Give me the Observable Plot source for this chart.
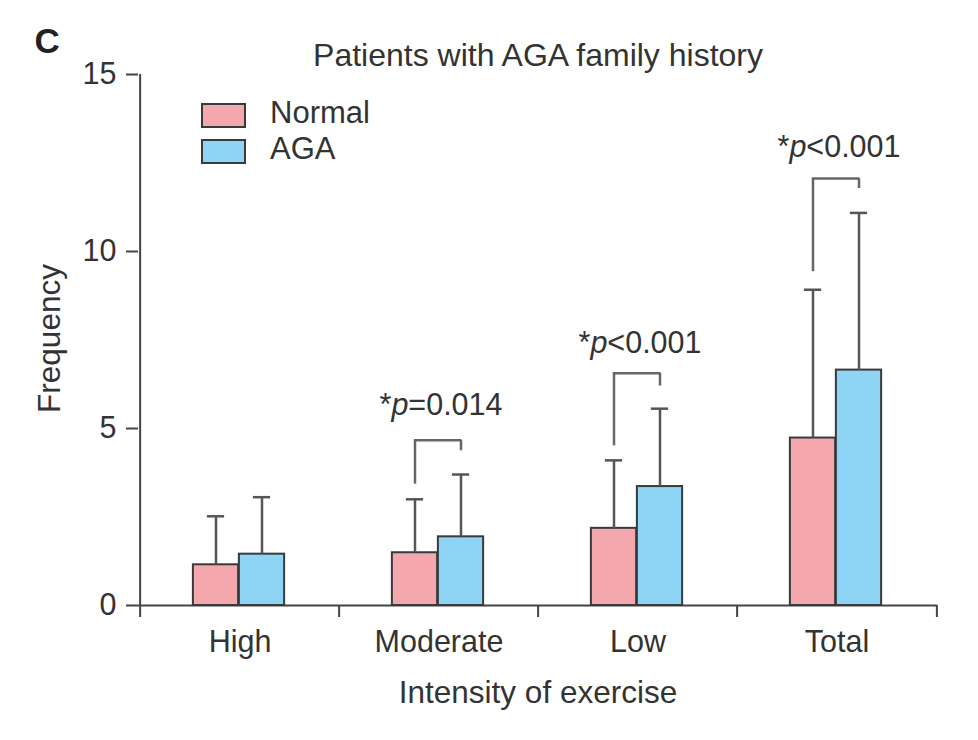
<!DOCTYPE html>
<html>
<head>
<meta charset="utf-8">
<script src="https://cdn.jsdelivr.net/npm/d3@7"></script>
<script src="https://cdn.jsdelivr.net/npm/@observablehq/plot@0.6"></script>
<style>
  body { margin: 0; background: white; }
  #wrap { position: relative; width: 978px; height: 740px; font-family: "Liberation Sans", Arial, sans-serif; color: #333; }
  .lg { position: absolute; left: 201px; width: 41px; height: 21px; border: 2px solid #3a3a3a; }
  .lt { position: absolute; left: 270px; font-size: 31px; line-height: 31px; }
</style>
</head>
<body>
<div id="wrap"></div>
<script>
const categories = ["High", "Moderate", "Low", "Total"];
const seriesNames = ["Normal", "AGA"];
const seriesColors = ["#F4A7AD", "#8ED4F5"];
const normalMean = [1.15, 1.49, 2.18, 4.73];
const normalSD = [1.37, 1.51, 1.92, 4.19];
const agaMean = [1.45, 1.94, 3.36, 6.65];
const agaSD = [1.61, 1.76, 2.20, 4.44];
const yTicks = [0, 5, 10, 15];

const compCategories = ["Moderate", "Low", "Total"];
const compLabels = ["*p=0.014", "*p<0.001", "*p<0.001"];
const bracketTop = [4.67, 6.56, 12.06];
const bracketLeftEnd = [3.43, 4.51, 9.43];
const bracketRightEnd = [4.37, 6.2, 11.78];
const labelY = [5.67, 7.41, 12.95];

const W = 978, H = 740, mL = 138, mR = 41, mT = 74, mB = 135;
const bw = (W - mL - mR) / categories.length;
const barW = 46;
const font = '"Liberation Sans", Arial, sans-serif';

const normalRows = categories.map((c, i) => ({cat: c, mean: normalMean[i], up: normalMean[i] + normalSD[i]}));
const agaRows = categories.map((c, i) => ({cat: c, mean: agaMean[i], up: agaMean[i] + agaSD[i]}));
const comps = compCategories.map((c, i) => ({cat: c, top: bracketTop[i], left: bracketLeftEnd[i], right: bracketRightEnd[i], ly: labelY[i], label: compLabels[i]}));

const axisColor = "#444";
const errColor = "#555";
const brColor = "#666";
const offN = -24, offA = 22;

function group(rows, off, fill) {
  return [
    Plot.barY(rows, {x: "cat", y: "mean", dx: off, insetLeft: (bw - barW) / 2, insetRight: (bw - barW) / 2, fill, stroke: "#3a3a3a", strokeWidth: 2}),
    Plot.ruleX(rows, {x: "cat", y1: "mean", y2: "up", dx: off, stroke: errColor, strokeWidth: 2.5}),
    Plot.tickY(rows, {x: "cat", y: "up", dx: off, insetLeft: bw / 2 - 9, insetRight: bw / 2 - 9, stroke: errColor, strokeWidth: 2.5})
  ];
}

const chart = Plot.plot({
  width: W, height: H,
  marginLeft: mL, marginRight: mR, marginTop: mT, marginBottom: mB,
  style: {fontFamily: font, fontSize: "30px", color: "#333", background: "white", overflow: "visible"},
  x: {domain: categories, padding: 0, axis: null},
  y: {domain: [0, 15], axis: null},
  marks: [
    Plot.axisY({ticks: yTicks, tickSize: 12, tickPadding: 10, fontSize: 30.5, label: null, stroke: axisColor, strokeWidth: 2}),
    Plot.axisX({tickSize: 0, tickPadding: 25, fontSize: 30.5, label: null}),
    Plot.ruleY([0], {stroke: axisColor, strokeWidth: 2}),
    Plot.ruleX([categories[0]], {x: d => d, dx: -bw / 2, y1: () => 0, y2: () => 15, stroke: axisColor, strokeWidth: 2}),
    Plot.ruleX(categories, {x: d => d, dx: -bw / 2, y1: () => 0, y2: () => 0, insetBottom: -12, stroke: axisColor, strokeWidth: 2}),
    Plot.ruleX([categories[categories.length - 1]], {x: d => d, dx: bw / 2, y1: () => 0, y2: () => 0, insetBottom: -12, stroke: axisColor, strokeWidth: 2}),
    ...group(normalRows, offN, seriesColors[0]),
    ...group(agaRows, offA, seriesColors[1]),
    Plot.ruleX(comps, {x: "cat", y1: "left", y2: "top", dx: offN, stroke: brColor, strokeWidth: 2.5}),
    Plot.ruleX(comps, {x: "cat", y1: "right", y2: "top", dx: offA, stroke: brColor, strokeWidth: 2.5}),
    Plot.tickY(comps, {x: "cat", y: "top", insetLeft: bw / 2 + offN - 1, insetRight: bw / 2 - offA - 1, stroke: brColor, strokeWidth: 2.5}),
    Plot.text(comps, {x: "cat", y: "ly", text: "label", dx: 2, fontSize: 30.5, lineAnchor: "middle", fill: "#333"}),
    Plot.text(["Patients with AGA family history"], {text: d => d, frameAnchor: "top", textAnchor: "middle", dy: -18.6, fontSize: 32, lineAnchor: "middle", fill: "#333"}),
    Plot.text(["C"], {text: d => d, frameAnchor: "top-left", textAnchor: "start", lineAnchor: "middle", dx: -104, dy: -32.5, fontSize: 35, fontWeight: "bold", fill: "#222"}),
    Plot.text(["Frequency"], {text: d => d, frameAnchor: "left", textAnchor: "middle", lineAnchor: "middle", rotate: -90, dx: -89, dy: -1.5, fontSize: 31.5, fill: "#333"}),
    Plot.text(["Intensity of exercise"], {text: d => d, frameAnchor: "bottom", textAnchor: "middle", dy: 87, fontSize: 31.5, lineAnchor: "middle", fill: "#333"})
  ]
});

// italic p in significance labels
chart.querySelectorAll("text").forEach(t => {
  const s = t.textContent;
  if (s.startsWith("*p")) {
    while (t.firstChild) t.removeChild(t.firstChild);
    const ns = "http://www.w3.org/2000/svg";
    t.appendChild(document.createTextNode("*"));
    const ts = document.createElementNS(ns, "tspan");
    ts.setAttribute("font-style", "italic");
    ts.textContent = "p";
    t.appendChild(ts);
    t.appendChild(document.createTextNode(s.slice(2)));
  }
});

const wrap = document.getElementById("wrap");
wrap.appendChild(chart);

// legend
const legendTops = [103, 139];
seriesNames.forEach((name, i) => {
  const sw = document.createElement("div");
  sw.className = "lg";
  sw.style.top = legendTops[i] + "px";
  sw.style.background = seriesColors[i];
  wrap.appendChild(sw);
  const lt = document.createElement("div");
  lt.className = "lt";
  lt.style.top = (legendTops[i] - 6) + "px";
  lt.textContent = name;
  wrap.appendChild(lt);
});
</script>
</body>
</html>
